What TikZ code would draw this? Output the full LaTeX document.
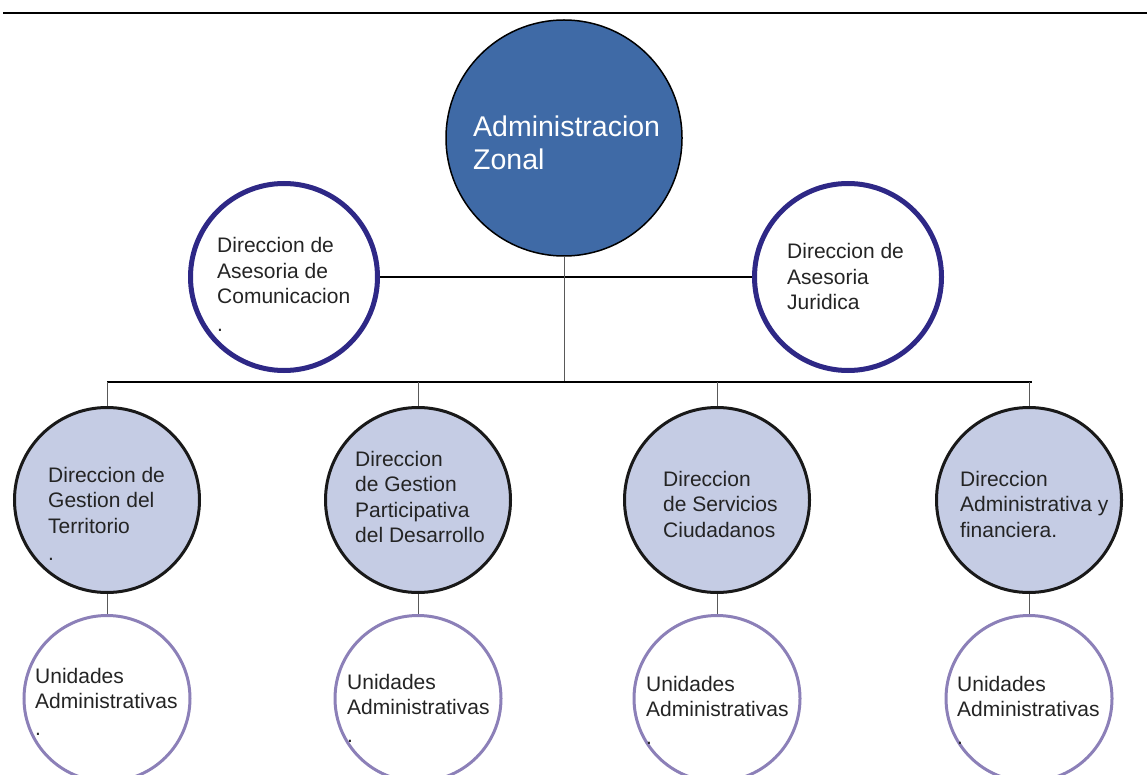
\documentclass[tikz,border=0pt]{standalone}
\usepackage{fontspec}
\setmainfont{Liberation Sans}
\usetikzlibrary{positioning}

\definecolor{zonalblue}{HTML}{3F6AA6}
\definecolor{asesorline}{HTML}{2E2886}
\definecolor{dirfill}{HTML}{C5CCE4}
\definecolor{unidline}{HTML}{8C80B8}
\definecolor{txtgray}{HTML}{242424}

\newcommand{\lns}[1]{\begin{tabular}[t]{@{}l@{}}#1\end{tabular}}

\tikzset{
  zonal/.style={circle, draw=black, line width=1.5pt, fill=zonalblue, minimum size=236pt, inner sep=0pt},
  asesor/.style={circle, draw=asesorline, line width=5pt, fill=white, minimum size=187pt, inner sep=0pt},
  direccion/.style={circle, draw=black!90, line width=3pt, fill=dirfill, minimum size=185pt, inner sep=0pt},
  unidad/.style={circle, draw=unidline, line width=3pt, fill=white, minimum size=166pt, inner sep=0pt},
  txt/.style={anchor=base west, inner sep=0pt, text=txtgray, font=\fontsize{21}{25.5}\selectfont},
  titulo/.style={anchor=base west, inner sep=0pt, text=white, font=\fontsize{28.5}{33}\selectfont},
  rama/.style={draw=black!65, line width=0.8pt},
}

\begin{document}
\begin{tikzpicture}[x=1pt, y=-1pt]
  \useasboundingbox (0,0) rectangle (1147,775);
  \clip (0,0) rectangle (1147,775);
  \draw[line width=1.3pt] (3,13) -- (1147,13);

  % nivel superior
  \node[zonal] (az) at (564,138) {};
  \node[asesor] (acom) at (284,277) {};
  \node[asesor] (ajur) at (848,277) {};

  % direcciones
  \node[direccion] (gt) at (107,500) {};
  \node[direccion] (gp) at (418,500) {};
  \node[direccion] (sc) at (717,500) {};
  \node[direccion] (af) at (1029,500) {};

  % unidades
  \node[unidad, below=20pt of gt] (u1) {};
  \node[unidad, below=20pt of gp] (u2) {};
  \node[unidad, below=20pt of sc] (u3) {};
  \node[unidad, below=20pt of af] (u4) {};

  % textos
  \node[titulo] (az-t) at (473,137) {\lns{Administracion\\Zonal}};
  \node[txt] (acom-t) at (217,253) {\lns{Direccion de\\Asesoria de\\Comunicacion\\[2pt].}};
  \node[txt] (ajur-t) at (787,259) {\lns{Direccion de\\Asesoria\\Juridica}};
  \node[txt] (gt-t) at (48,482) {\lns{Direccion de\\Gestion del\\Territorio\\[2pt].}};
  \node[txt] (gp-t) at (355,466) {\lns{Direccion\\de Gestion\\Participativa\\del Desarrollo}};
  \node[txt] (sc-t) at (663,486) {\lns{Direccion\\de Servicios\\Ciudadanos}};
  \node[txt] (af-t) at (960,486) {\lns{Direccion\\Administrativa y\\financiera.}};
  \node[txt] (u1-t) at (35,683) {\lns{Unidades\\Administrativas\\[1pt].}};
  \node[txt] (u2-t) at (347,689) {\lns{Unidades\\Administrativas\\[2pt].}};
  \node[txt] (u3-t) at (646,691) {\lns{Unidades\\Administrativas\\[2pt].}};
  \node[txt] (u4-t) at (957,691) {\lns{Unidades\\Administrativas\\[2pt].}};

  % conectores
  \coordinate (bus) at (az.south |- 0,382);
  \draw[line width=1.5pt] (acom.east) -- (ajur.west);
  \draw[rama] (az.south) -- (bus);
  \draw[line width=2pt] (gt.north |- bus) -- ([xshift=3pt]af.north |- bus);
  \foreach \d/\u in {gt/u1, gp/u2, sc/u3, af/u4} {
    \draw[rama] (\d.north |- bus) -- (\d.north);
    \draw[rama] (\d.south) -- (\u.north);
  }
\end{tikzpicture}
\end{document}
